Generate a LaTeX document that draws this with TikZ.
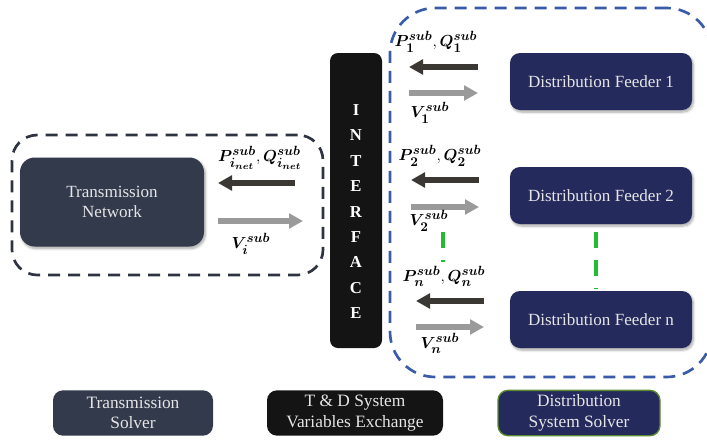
\documentclass[tikz,border=0pt]{standalone}
\usepackage{fontspec}
\setmainfont{Liberation Serif}
\usepackage{amsmath,amssymb}
\usepackage{tikz}
\usetikzlibrary{positioning, arrows.meta, fit, shadows.blur, backgrounds}
\DeclareMathSizes{13}{13}{9.8}{7.5}

\definecolor{tncol}{HTML}{333A4C}
\definecolor{dfcol}{HTML}{252A5C}
\definecolor{ifcol}{HTML}{141414}
\definecolor{pqgray}{HTML}{3B3733}
\definecolor{vgray}{HTML}{9A9A9A}
\definecolor{bndblue}{HTML}{3A5BA8}
\definecolor{bnddark}{HTML}{2D3340}
\definecolor{dashgreen}{HTML}{22BB33}
\definecolor{solvgreen}{HTML}{5A8A30}

\begin{document}
\begin{tikzpicture}[
  x=0.75pt, y=-0.75pt,
  font=\fontsize{12.8}{15.5}\selectfont,
  blk/.style={rounded corners=7.5pt, align=center, inner sep=0pt,
    text=white!90!black},
  shade/.style={blur shadow={shadow xshift=1pt, shadow yshift=-1.5pt,
    shadow blur steps=6, shadow opacity=35}},
  tnbox/.style={blk, shade, fill=tncol, minimum width=138pt,
    minimum height=66.75pt, rounded corners=11pt},
  dfbox/.style={blk, shade, fill=dfcol, minimum width=136.5pt,
    minimum height=42.75pt},
  ifbox/.style={blk, fill=ifcol, minimum width=39pt,
    minimum height=221.25pt, rounded corners=6pt},
  ifletter/.style={font=\fontsize{12.5}{14}\selectfont\bfseries, text=white},
  legend/.style={blk, minimum height=34pt,
    font=\fontsize{13}{15.5}\selectfont},
  tbound/.style={draw=bnddark, line width=2pt, dash pattern=on 9pt off 6pt,
    rounded corners=19pt, inner sep=0pt},
  dbound/.style={draw=bndblue, line width=2pt, dash pattern=on 9pt off 6pt,
    rounded corners=34pt, inner sep=0pt},
  pq/.style={draw=pqgray, line width=4.5pt,
    -{Triangle[length=10.5pt, width=11pt]}},
  vv/.style={draw=vgray, line width=4.5pt,
    -{Triangle[length=10.5pt, width=11pt]}},
  gdash/.style={draw=dashgreen, line width=3pt, dash pattern=on 12pt off 9pt},
  lbl/.style={font=\fontsize{13}{15}\selectfont, inner sep=1pt},
]
  \useasboundingbox (0,0) rectangle (707,447);

  % Dashed solver boundaries
  \node[tbound, fit={(12,135) (323,275)}] (tb) {};
  \node[dbound, fit={(390,8) (712,377)}] (db) {};

  % Transmission side
  \node[tnbox] (tn) at (112,202) {Transmission\\Network};
  \coordinate (pqi-a) at (295,183);
  \coordinate (pqi-b) at (218,183);
  \coordinate (vi-a) at (218,221);
  \coordinate (vi-b) at (303,221);
  \draw[pq] (pqi-a) -- (pqi-b);
  \draw[vv] (vi-a) -- (vi-b);
  \node[lbl] (pqi) at (260,158)
       {$\boldsymbol{P_{i_{net}}^{sub}}, \boldsymbol{Q_{i_{net}}^{sub}}$};
  \node[lbl] (vi) at (251,244) {$\boldsymbol{V_{i}^{sub}}$};

  % Interface column
  \node[ifbox] (intf) at (356,200.5) {};
  \foreach \ch [count=\k] in {I,N,T,E,R,F,A,C,E}
    \node[ifletter] (ifl\k) at (356,84.6+25.4*\k) {\ch};

  % Distribution feeders
  \node[dfbox] (df1) at (601,81.5)  {Distribution Feeder 1};
  \node[dfbox] (df2) at (601,195.5) {Distribution Feeder 2};
  \node[dfbox] (dfn) at (601,319.5) {Distribution Feeder n};

  % Exchange arrows, feeder side
  \foreach \r/\yb/\yg/\xl/\xr in {1/67/93/409/478, 2/180/207/411/479, n/301/327/416/484}{
    \coordinate (pq\r-a) at (\xr,\yb);
    \coordinate (pq\r-b) at (\xl,\yb);
    \coordinate (v\r-a) at (\xl,\yg);
    \coordinate (v\r-b) at (\xr,\yg);
    \draw[pq] (pq\r-a) -- (pq\r-b);
    \draw[vv] (v\r-a) -- (v\r-b);
  }
  \node[lbl] (pq1) at (436,42)  {$\boldsymbol{P_{1}^{sub}}, \boldsymbol{Q_{1}^{sub}}$};
  \node[lbl] (v1)  at (430,113) {$\boldsymbol{V_{1}^{sub}}$};
  \node[lbl] (pq2) at (440,156) {$\boldsymbol{P_{2}^{sub}}, \boldsymbol{Q_{2}^{sub}}$};
  \node[lbl] (v2)  at (429,221) {$\boldsymbol{V_{2}^{sub}}$};
  \node[lbl] (pqn) at (444,276) {$\boldsymbol{P_{n}^{sub}}, \boldsymbol{Q_{n}^{sub}}$};
  \node[lbl] (vn)  at (440,343) {$\boldsymbol{V_{n}^{sub}}$};

  % Continuation dashes
  \coordinate (g1-a) at (443,232);
  \coordinate (g1-b) at (443,262);
  \coordinate (g2-a) at (596,232);
  \coordinate (g2-b) at (596,289);
  \draw[gdash] (g1-a) -- (g1-b);
  \draw[gdash] (g2-a) -- (g2-b);

  % Legend
  \node[legend, fill=tncol, minimum width=120pt] (lts) at (133,413)
       {Transmission\\Solver};
  \node[legend, fill=ifcol, minimum width=132pt] (ltd) at (355,413)
       {T \& D System\\Variables Exchange};
  \node[legend, fill=dfcol, draw=solvgreen, line width=1pt,
        minimum width=121.5pt] (lds) at (579,413)
       {Distribution\\System Solver};
\end{tikzpicture}
\end{document}
